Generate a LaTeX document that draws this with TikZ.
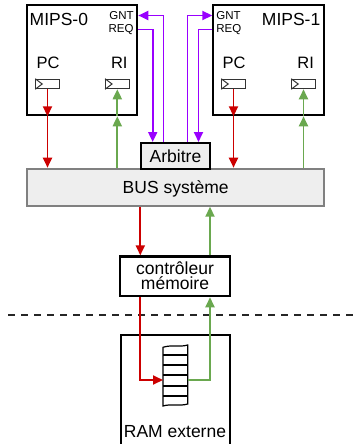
\documentclass[tikz,border=0pt]{standalone}
\usepackage{fontspec}
\setmainfont{Liberation Sans}
\usetikzlibrary{arrows.meta}
\definecolor{cred}{HTML}{CC0000}
\definecolor{cgreen}{HTML}{6AA84F}
\definecolor{cpurple}{HTML}{9900FF}
\definecolor{cfill}{HTML}{EEEEEE}
\definecolor{cbusline}{HTML}{808080}
\begin{document}
\begin{tikzpicture}[x=1pt,y=-1pt,
  fbig/.style={font=\fontsize{17.5}{15}\selectfont},
  fmid/.style={font=\fontsize{16.5}{15}\selectfont},
  fsmall/.style={font=\fontsize{11.5}{12}\selectfont},
  box/.style={draw=black, line width=2pt, inner sep=0pt, fill=white},
  reg/.style={draw=black!80, line width=1pt, fill=white, minimum width=23.6pt, minimum height=9.5pt, inner sep=0pt},
  lbl/.style={inner sep=0pt, anchor=base},
  sig/.style={line width=1.9pt, -{Triangle[length=10pt,width=9pt]}},
  rd/.style={sig, color=cred},
  gr/.style={sig, color=cgreen},
  pu/.style={sig, color=cpurple},
]
\useasboundingbox (0,0) rectangle (354,444);
\clip (0,0) rectangle (354,444);

% processors
\node[box, minimum width=110pt, minimum height=110pt] (mips0) at (82.3,60.3) {};
\node[box, minimum width=110.4pt, minimum height=110pt] (mips1) at (268.5,60.3) {};
\node[lbl, fbig, anchor=base west] (t0) at (29.5,26) {MIPS-0};
\node[lbl, fbig, anchor=base east] (t1) at (320.5,26) {MIPS-1};
\node[lbl, fsmall, anchor=base east] (gnt0) at (133.8,20) {GNT};
\node[lbl, fsmall, anchor=base east] (req0) at (133.8,33) {REQ};
\node[lbl, fsmall, anchor=base west] (gnt1) at (216.2,20) {GNT};
\node[lbl, fsmall, anchor=base west] (req1) at (216.2,33) {REQ};
\node[lbl, fmid] (pcl0) at (48,68.3) {PC};
\node[lbl, fmid] (ril0) at (119.3,68.3) {RI};
\node[lbl, fmid] (pcl1) at (234,68.3) {PC};
\node[lbl, fmid] (ril1) at (305.7,68.3) {RI};
\node[reg] (pc0) at (47.5,84) {};
\node[reg] (ri0) at (117.3,84) {};
\node[reg] (pc1) at (233.5,84) {};
\node[reg] (ri1) at (303.5,84) {};
\foreach \r in {pc0,ri0,pc1,ri1}
  \draw[line width=1pt, black!80] (\r.north west) -- ([xshift=7pt]\r.west) -- (\r.south west);

% bus and arbiter
\node[draw=cbusline, line width=2pt, fill=cfill, minimum width=296.7pt, minimum height=37pt, inner sep=0pt, text height=12.5pt, text depth=0pt, fbig] (bus) at (175.7,187.2) {BUS système};
\node[draw=black, line width=2pt, fill=cfill, minimum width=69pt, minimum height=26pt, inner sep=0pt, text height=12.5pt, text depth=0pt, fbig] (arb) at (175.5,156) {Arbitre};

% memory controller
\node[draw=black, line width=2.6pt, fill=white, minimum width=110pt, minimum height=39.3pt, inner sep=0pt] (ctrl) at (175,276.3) {};
\node[lbl, fbig, text height=12.5pt, text depth=0pt] (ct1) at (175,274.3) {contrôleur};
\node[lbl, fbig, text height=12.5pt, text depth=0pt] (ct2) at (175,289.7) {mémoire};

% dashed separator
\coordinate (dl) at (8,314.7);
\coordinate (dr) at (354,314.7);
\draw[line width=2pt, black!85, dash pattern=on 7pt off 6pt] (dl) -- (dr);

% external RAM
\node[draw=black, line width=2pt, minimum width=109.3pt, minimum height=130pt, inner sep=0pt, anchor=north] (ram) at (175.35,334.3) {};
\node[lbl, fbig] (ramt) at (175,437.3) {RAM externe};
\draw[line width=1.2pt] (163,347.3) .. controls (171,344.5) and (179,347.5) .. (187.7,345) -- (187.7,404) .. controls (179,406.5) and (171,403.5) .. (163,406) -- cycle;
\foreach \yy in {355,365,375} \draw[line width=1.2pt] (163,\yy) -- (187.7,\yy);
\foreach \yy in {385.7,396} \draw[line width=1.6pt] (163,\yy) -- (187.7,\yy);
\coordinate (stL) at (163,380);
\coordinate (stR) at (187.7,380);

% processor <-> bus
\draw[rd] (pc0.south) -- (pc0.south |- mips0.south);
\draw[rd] (pc0.south |- mips0.south) -- (pc0.south |- bus.north);
\draw[gr] (ri0.south |- bus.north) -- (ri0.south |- mips0.south);
\draw[gr] (ri0.south |- mips0.south) -- (ri0.south);
\draw[rd] (pc1.south) -- (pc1.south |- mips1.south);
\draw[rd] (pc1.south |- mips1.south) -- (pc1.south |- bus.north);
\draw[gr] (ri1.south |- bus.north) -- (ri1.south |- mips1.south);
\draw[gr] (ri1.south |- mips1.south) -- (ri1.south);

% arbitration
\coordinate (g0) at (163.5,15.5);
\coordinate (r0) at (152.7,29.5);
\coordinate (g1) at (187.5,15.5);
\coordinate (r1) at (198.5,29.5);
\draw[pu] (g0 |- arb.north) -- (g0) -- (g0 -| mips0.east);
\draw[pu] (r0 -| mips0.east) -- (r0) -- (r0 |- arb.north);
\draw[pu] (g1 |- arb.north) -- (g1) -- (g1 -| mips1.west);
\draw[pu] (r1 -| mips1.west) -- (r1) -- (r1 |- arb.north);

% bus <-> controller <-> RAM
\coordinate (xr) at (140.3,0);
\coordinate (xg) at (210,0);
\draw[rd] (xr |- bus.south) -- (xr |- ctrl.north);
\draw[gr] (xg |- ctrl.north) -- (xg |- bus.south);
\draw[rd] (xr |- ctrl.south) |- (stL);
\draw[gr] (stR) -| (xg |- ctrl.south);
\end{tikzpicture}
\end{document}
